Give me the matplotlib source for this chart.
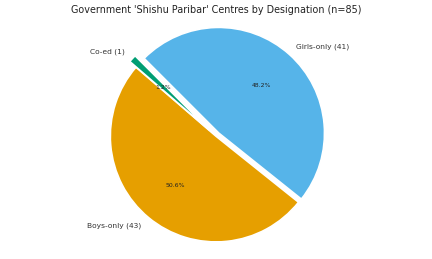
import matplotlib
matplotlib.use('Agg')
import matplotlib.pyplot as plt

# centres by designation
labels = ['Girls-only (41)', 'Boys-only (43)', 'Co-ed (1)']
counts = [41, 43, 1]
colors = ['#56B4E9', '#E69F00', '#009E73']
explode = [0.04, 0.0, 0.08]

fig = plt.figure(figsize=(4.32, 2.59), dpi=100)
ax = fig.add_axes([0, -0.036, 1, 1.02])
wedges, texts, autotexts = ax.pie(counts, labels=labels, colors=colors, explode=explode,
                                  autopct='%1.1f%%', startangle=135, counterclock=False,
                                  pctdistance=0.6, labeldistance=1.1,
                                  wedgeprops=dict(edgecolor='white', linewidth=1.2),
                                  textprops=dict(fontsize=5.4, color='#333333'))
for t in autotexts:
    t.set_fontsize(4.4)
    t.set_color('#222222')
ax.set_xlim(-1.25, 1.25)
ax.set_ylim(-1.25, 1.25)
ax.set_aspect('equal')
fig.suptitle("Government 'Shishu Paribar' Centres by Designation (n=85)", fontsize=6.9,
             color='#222222', y=0.961, va='center')
plt.savefig('out.png', dpi=100)
